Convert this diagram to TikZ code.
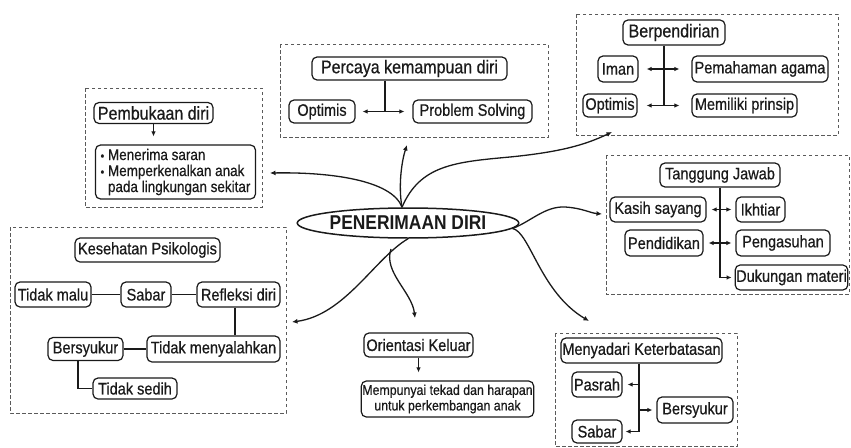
\documentclass[tikz,border=0pt]{standalone}
\usepackage{fontspec}
\setmainfont{Liberation Sans}[FakeStretch=0.87, UprightFeatures={FakeBold=0.6}]
\usetikzlibrary{arrows.meta,calc,shapes.geometric}
\definecolor{ink}{HTML}{1A1A1A}
\definecolor{framegray}{HTML}{5A5A5A}
\newcommand\fsz[2]{\fontsize{#1}{#2}\selectfont}
\newcommand\bul{{\fsz{12}{12}\textbullet}\ }
\tikzset{
  box/.style={draw=ink, line width=1.2pt, rounded corners=5pt, inner sep=1pt,
              align=center, font=\fsz{16.7}{19}, text=ink},
  frame/.style={draw=framegray, dash pattern=on 3.5pt off 2.5pt, line width=0.9pt},
  link/.style={draw=ink, line width=1.2pt},
  arr/.style={link, -{Latex[length=5pt,width=4.5pt]}},
  darr/.style={link, {Latex[length=5pt,width=4.5pt]}-{Latex[length=5pt,width=4.5pt]}},
  curve/.style={draw=ink, line width=1.3pt, -{Latex[length=5.5pt,width=5pt]}}
}
\begin{document}
\begin{tikzpicture}[x=1pt,y=-1pt]
\useasboundingbox[fill=white] (0,0) rectangle (851,447);

% dashed frames around each group
\draw[frame] (85,88) rectangle (262,207);
\draw[frame] (280,44) rectangle (548,137);
\draw[frame] (576,14) rectangle (838,135);
\draw[frame] (606,155) rectangle (849,294);
\draw[frame] (10,227) rectangle (286,413);
\draw[frame] (555,333) rectangle (737,446);

% central topic
\node[ellipse, draw=ink, line width=1.5pt, minimum width=190pt, minimum height=30pt,
      inner sep=0pt, font=\fsz{20}{22}\bfseries, text=ink] (pd) at (408,223) {PENERIMAAN DIRI};

% Pembukaan diri
\node[box, font=\fsz{18.4}{21}, minimum width=119pt, minimum height=21pt] (pemb) at (153.5,113) {Pembukaan diri};
\node[box, align=left, font=\fsz{15.5}{16}, minimum width=160pt, minimum height=54pt] (bul) at (175.5,172)
  {\bul Menerima saran\\\bul Memperkenalkan anak\\\phantom{\bul}pada lingkungan sekitar};
\draw[arr] (pemb.south) -- ($(bul.north -| pemb.south)+(0,-8)$);

% Percaya kemampuan diri
\node[box, font=\fsz{18.4}{21}, minimum width=195pt, minimum height=23pt] (perc) at (409.5,68.5) {Percaya kemampuan diri};
\node[box, minimum width=66pt, minimum height=23pt] (opt1) at (322,111.5) {Optimis};
\node[box, minimum width=119pt, minimum height=23pt] (prob) at (472.5,111.5) {Problem Solving};
\coordinate (j1) at (385,111.5);
\draw[link] (j1 |- perc.south) -- (j1);
\draw[darr] ($(opt1.east)+(7,0)$) -- ($(prob.west)+(-8,0)$);

% Berpendirian
\node[box, font=\fsz{18.4}{21}, minimum width=102pt, minimum height=25pt] (berp) at (674,32.5) {Berpendirian};
\node[box, minimum width=40pt, minimum height=26pt] (iman) at (618,69) {Iman};
\node[box, minimum width=136pt, minimum height=26pt] (pemah) at (760,69) {Pemahaman agama};
\node[box, minimum width=54pt, minimum height=23pt] (opt2) at (610,105.5) {Optimis};
\node[box, minimum width=105pt, minimum height=23pt] (prin) at (744.5,105.5) {Memiliki prinsip};
\coordinate (j2) at (664,105.5);
\draw[link] (j2 |- berp.south) -- (j2);
\draw[darr] ($(iman.east)+(8,0)$) -- ($(pemah.west)+(-12,0)$);
\draw[darr] ($(opt2.east)+(9,0)$) -- ($(prin.west)+(-12,0)$);

% Tanggung Jawab
\node[box, minimum width=120pt, minimum height=24pt] (tj) at (720,175) {Tanggung Jawab};
\node[box, minimum width=96pt, minimum height=25pt] (kasih) at (658,209.5) {Kasih sayang};
\node[box, minimum width=49pt, minimum height=25pt] (ikh) at (760.5,209.5) {Ikhtiar};
\node[box, minimum width=78pt, minimum height=26pt] (pend) at (664,243) {Pendidikan};
\node[box, minimum width=94pt, minimum height=26pt] (peng) at (783,243) {Pengasuhan};
\node[box, minimum width=111pt, minimum height=25pt] (duk) at (791.5,277.5) {Dukungan materi};
\coordinate (j3) at (720,277.5);
\draw[arr] (j3 |- tj.south) -- (j3) -- ($(duk.west)+(-3,0)$);
\draw[darr] ($(kasih.east)+(5,0)$) -- ($(ikh.west)+(-4,0)$);
\draw[darr] ($(pend.east)+(5,0)$) -- ($(peng.west)+(-4,0)$);

% Kesehatan Psikologis
\node[box, minimum width=145pt, minimum height=24pt] (kes) at (147.5,250) {Kesehatan Psikologis};
\node[box, minimum width=76pt, minimum height=25pt] (malu) at (53,294.5) {Tidak malu};
\node[box, minimum width=50pt, minimum height=25pt] (sab1) at (146,294.5) {Sabar};
\node[box, minimum width=83pt, minimum height=25pt] (refl) at (238.5,294.5) {Refleksi diri};
\node[box, minimum width=133pt, minimum height=26pt] (meny) at (213.5,349) {Tidak menyalahkan};
\node[box, minimum width=75pt, minimum height=23pt] (syk1) at (85.5,349) {Bersyukur};
\node[box, minimum width=84pt, minimum height=21pt] (sedih) at (135,388.5) {Tidak sedih};
\draw[link] (malu) -- (sab1);
\draw[link] (sab1) -- (refl);
\draw[link] ($(refl.south)+(-3.5,0)$) -- ($(refl.south |- meny.north)+(-3.5,0)$);
\draw[link] (syk1) -- (meny);
\draw[link] ($(syk1.south)+(-7.5,0)$) |- (sedih.west);

% Orientasi Keluar
\node[box, minimum width=109pt, minimum height=24pt] (ori) at (418.5,345) {Orientasi Keluar};
\node[box, font=\fsz{14.2}{15.5}, minimum width=169pt, minimum height=36pt] (tekad) at (447.5,399)
  {Mempunyai tekad dan harapan\\untuk perkembangan anak};
\draw[arr] (ori.south) -- ($(tekad.north -| ori.south)+(0,-8)$);

% Menyadari Keterbatasan
\node[box, minimum width=161pt, minimum height=25pt] (sadar) at (641.5,350.5) {Menyadari Keterbatasan};
\node[box, minimum width=50pt, minimum height=25pt] (pasrah) at (597,384.5) {Pasrah};
\node[box, minimum width=76pt, minimum height=26pt] (syk2) at (695,410) {Bersyukur};
\node[box, minimum width=50pt, minimum height=23pt] (sab2) at (597,431.5) {Sabar};
\coordinate (j4) at (639,431.5);
\draw[arr] (j4 |- sadar.south) -- (j4) -- ($(sab2.east)+(3,0)$);
\draw[arr] (j4 |- pasrah.east) -- ($(pasrah.east)+(5,0)$);
\draw[arr] (j4 |- syk2.west) -- ($(syk2.west)+(-4,0)$);

% branches from the central topic
\coordinate (top) at ($(pd.north)+(-6,0)$);
\coordinate (e1) at (270,173);
\coordinate (e2) at (407,145);
\coordinate (e3) at (612,132);
\coordinate (e4) at (602,214);
\coordinate (e5) at (292,322);
\coordinate (e6) at (415,318);
\coordinate (e7) at (589,321);
\coordinate (br) at (391,249);
\draw[curve] (top) .. controls (392,180) and (330,172) .. (e1);
\draw[curve] (top) .. controls (398,185) and (402,160) .. (e2);
\draw[curve] (top) .. controls (420,165) and (455,162) .. (510,157)
                   .. controls (560,152) and (585,145) .. (e3);
\draw[curve] (pd.-3) .. controls (530,222) and (545,206) .. (565,207)
                     .. controls (582,208) and (590,213) .. (e4);
\draw[curve] (pd.south) .. controls (375,258) and (345,315) .. (e5);
\draw[curve] (br) .. controls (383,272) and (412,292) .. (e6);
\draw[curve] (pd.-3) .. controls (530,232) and (540,292) .. (e7);
\end{tikzpicture}
\end{document}
